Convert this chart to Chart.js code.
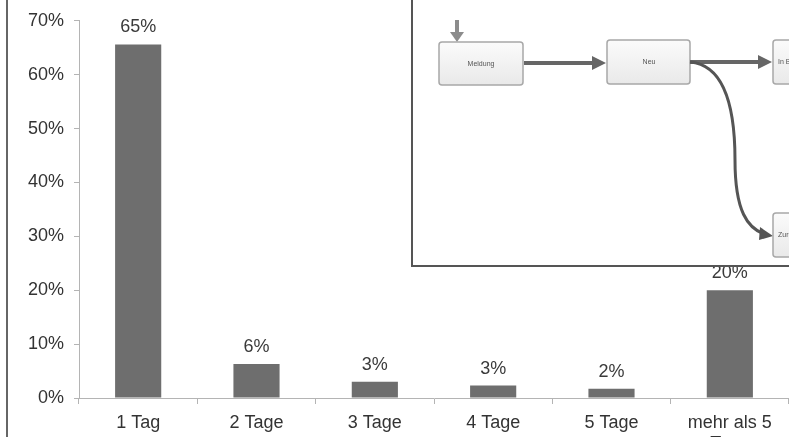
<!DOCTYPE html>
<html>
<head>
<meta charset="utf-8">
<script src="https://cdn.jsdelivr.net/npm/chart.js@4.4.0/dist/chart.umd.min.js"></script>
<style>
  html, body { margin: 0; padding: 0; background: #fff; overflow: hidden; }
  #wrap { position: relative; width: 789px; height: 437px; }
  #frame { position: absolute; left: 6px; top: 0; width: 2px; height: 437px; background: #666; }
  #inset { position: absolute; left: 0; top: 0; }
</style>
</head>
<body>
<div id="wrap">
  <canvas id="chart" width="789" height="437"></canvas>
  <div id="frame"></div>
  <!-- eingefügter Screenshot vom Workflow -->
  <svg id="inset" width="789" height="437">
    <defs>
      <linearGradient id="boxfill" x1="0" y1="0" x2="0" y2="1">
        <stop offset="0" stop-color="#fbfbfb"/>
        <stop offset="1" stop-color="#e9e9e9"/>
      </linearGradient>
    </defs>
    <rect x="412" y="-3" width="380" height="269" fill="#fff" stroke="#555" stroke-width="2"/>
    <!-- Startpfeil -->
    <rect x="455" y="20" width="4" height="13" fill="#8c8c8c"/>
    <polygon points="450,32 464,32 457,42" fill="#8c8c8c"/>
    <!-- Meldung -->
    <rect x="439" y="42" width="84" height="43" rx="3" fill="url(#boxfill)" stroke="#a8a8a8" stroke-width="1.5"/>
    <text x="481" y="66" font-size="7" fill="#555" text-anchor="middle" font-family="Liberation Sans, Arial, sans-serif">Meldung</text>
    <line x1="524" y1="63" x2="594" y2="63" stroke="#666" stroke-width="4"/>
    <polygon points="592,56 606,63 592,70" fill="#666"/>
    <!-- Neu -->
    <rect x="607" y="40" width="83" height="44" rx="3" fill="url(#boxfill)" stroke="#a8a8a8" stroke-width="1.5"/>
    <text x="649" y="64" font-size="7" fill="#555" text-anchor="middle" font-family="Liberation Sans, Arial, sans-serif">Neu</text>
    <line x1="690" y1="62" x2="760" y2="62" stroke="#666" stroke-width="4"/>
    <polygon points="758,55 772,62 758,69" fill="#666"/>
    <path d="M690,62 C725,65 735,110 735,160 C735,212 748,228 764,234" fill="none" stroke="#555" stroke-width="3"/>
    <polygon points="760,227 773,236 759,240" fill="#555"/>
    <!-- abgeschnittene Kästen rechts -->
    <rect x="773" y="40" width="40" height="44" rx="3" fill="url(#boxfill)" stroke="#a8a8a8" stroke-width="1.5"/>
    <text x="778" y="64" font-size="7" fill="#555" font-family="Liberation Sans, Arial, sans-serif">In Bearbeitung</text>
    <rect x="773" y="213" width="40" height="44" rx="3" fill="url(#boxfill)" stroke="#a8a8a8" stroke-width="1.5"/>
    <text x="778" y="237" font-size="7" fill="#555" font-family="Liberation Sans, Arial, sans-serif">Zurückgewiesen</text>
  </svg>
</div>
<script>
// Dauer bis zur Bearbeitung einer Meldung
const categories = ['1 Tag', '2 Tage', '3 Tage', '4 Tage', '5 Tage', ['mehr als 5', 'Tage']];
const shares = [65.6, 6.3, 3.0, 2.3, 1.7, 20.0];
const shareLabels = ['65%', '6%', '3%', '3%', '2%', '20%'];
const yTicks = [0, 10, 20, 30, 40, 50, 60, 70];

const FONT = '"Liberation Sans", Arial, sans-serif';

// Prozentwerte über die Balken schreiben
const valueLabels = {
  id: 'valueLabels',
  afterDatasetsDraw(chart) {
    const ctx = chart.ctx;
    const meta = chart.getDatasetMeta(0);
    ctx.save();
    ctx.font = '18px ' + FONT;
    ctx.fillStyle = '#3a3a3a';
    ctx.textAlign = 'center';
    ctx.textBaseline = 'middle';
    meta.data.forEach((bar, i) => {
      ctx.fillText(shareLabels[i], bar.x, bar.y - 17);
    });
    ctx.restore();
  }
};

const c = document.getElementById('chart');
const chart = new Chart(c, {
  type: 'bar',
  data: {
    labels: categories,
    datasets: [{
      data: shares,
      backgroundColor: '#6e6e6e',
      borderWidth: 0,
      barPercentage: 0.39,
      categoryPercentage: 1
    }]
  },
  options: {
    responsive: false,
    animation: false,
    layout: { padding: { top: 19, right: 0, left: 0, bottom: 0 } },
    plugins: { legend: { display: false }, tooltip: { enabled: false } },
    scales: {
      x: {
        offset: true,
        grid: { offset: true, drawOnChartArea: false, tickLength: 6, color: '#b4b4b4' },
        border: { color: '#b4b4b4', width: 1 },
        ticks: { color: '#333', font: { size: 18, family: FONT, lineHeight: 1.2 }, padding: 8, maxRotation: 0, autoSkip: false },
        afterFit: s => { s.height = 39; }
      },
      y: {
        min: 0,
        max: 70,
        afterBuildTicks: s => { s.ticks = yTicks.map(v => ({ value: v })); },
        grid: { drawOnChartArea: false, tickLength: 5, color: '#b4b4b4' },
        border: { color: '#b4b4b4', width: 1 },
        ticks: { color: '#333', font: { size: 18, family: FONT }, padding: 10, callback: v => v + '%' },
        afterFit: s => { s.width = 79; }
      }
    }
  },
  plugins: [valueLabels]
});
</script>
</body>
</html>
